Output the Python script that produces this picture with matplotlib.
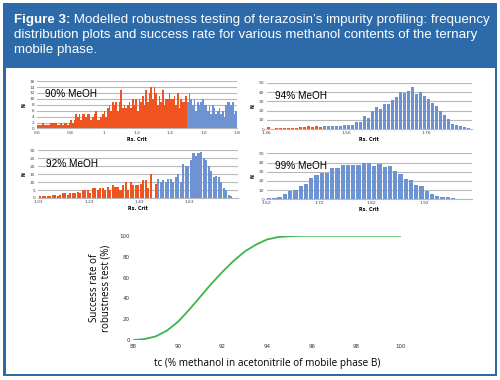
#!/usr/bin/env python3
"""Terazosin robustness figure: four Rs histograms + success-rate curve."""
import matplotlib

matplotlib.use("Agg")
import matplotlib.pyplot as plt
from matplotlib.patches import Rectangle
import numpy as np

BLUE_FRAME = "#2d6aa9"
RED = "#ef5420"
BAR_BLUE = "#6d93d2"
GREEN = "#3cb54a"
RS_LIMIT = 1.5
BIN = 0.01

# ---- histogram data (counts per 0.01 Rs bin) ----
START_90 = 0.60
N_90 = [1, 1, 1, 2, 1, 1, 1, 1, 2, 2,
        2, 2, 1, 1, 2, 1, 2, 2, 1, 2,
        3, 2, 3, 5, 4, 5, 3, 5, 5, 4,
        5, 5, 3, 4, 5, 6, 3, 3, 4, 5,
        6, 4, 7, 8, 6, 9, 8, 9, 6, 9,
        13, 7, 8, 7, 8, 9, 7, 10, 8, 10,
        6, 10, 9, 11, 8, 13, 9, 12, 14, 10,
        14, 12, 8, 11, 9, 13, 8, 10, 10, 12,
        10, 10, 11, 8, 12, 7, 10, 9, 9, 11,
        9, 12, 10, 8, 10, 6, 9, 8, 9, 10,
        8, 8, 6, 8, 5, 8, 7, 5, 6, 7,
        5, 6, 4, 8, 9, 9, 8, 9, 5, 6,
        6, 4, 4, 3, 4, 2, 1, 1, 2, 2]

START_94 = 1.36
N_94 = [2, 0, 1, 1, 1, 1, 1, 1, 2, 2, 3, 2, 3, 2,
        3, 3, 3, 3, 3, 5, 4, 4, 8, 8, 14, 12, 20, 24, 22, 27,
        27, 32, 35, 40, 39, 41, 46, 38, 40, 36, 33, 28, 25, 20,
        15, 11, 6, 4, 3, 2, 1]

START_92 = 1.03
N_92 = [1, 1, 1, 1, 1, 2, 2, 1, 2, 3,
        3, 2, 3, 3, 3, 4, 3, 5, 5, 5,
        3, 6, 6, 5, 6, 6, 5, 7, 5, 8,
        7, 7, 5, 8, 10, 5, 10, 8, 8, 8,
        9, 11, 11, 6, 15, 0, 9,
        12, 10, 11, 10, 12, 12, 10, 13, 15, 10,
        21, 20, 20, 24, 28, 26, 28, 29, 25, 24,
        20, 17, 13, 14, 13, 10, 6, 5, 2, 1]

START_99 = 1.62
N_99 = [1, 1, 3, 6, 9, 10, 15, 17, 23, 26,
        29, 29, 34, 34, 37, 37, 37, 37, 39, 40,
        36, 38, 35, 36, 31, 28, 22, 21, 16, 14,
        9, 6, 4, 2, 2, 1]

# ---- success rate curve ----
TC = [88, 88.5, 89, 89.5, 90, 90.5, 91, 91.5, 92, 92.5, 93, 93.5, 94, 94.5, 95, 95.5, 96, 98, 100]
SUCCESS = [0, 1, 3.5, 9, 17.5, 29, 41.5, 54, 65.5, 76, 85, 91.5, 96.5, 98.8, 99.6, 100, 100, 100, 100]

HISTS = [
    # label, start, counts, xlim, xticks, xticklabels, ymax, ystep, rect
    ("90% MeOH", START_90, N_90, (0.6, 1.8), [0.6, 0.8, 1.0, 1.2, 1.4, 1.6, 1.8],
     ["0.6", "0.8", "1", "1.2", "1.4", "1.6", "1.8"], 16, 2,
     [0.074, 0.662, 0.400, 0.1245]),
    ("94% MeOH", START_94, N_94, (1.36, 1.873), [1.36, 1.56, 1.76],
     ["1.36", "1.56", "1.76"], 50, 10,
     [0.533, 0.660, 0.410, 0.122]),
    ("92% MeOH", START_92, N_92, (1.025, 1.82), [1.03, 1.23, 1.43, 1.63],
     ["1.03", "1.23", "1.43", "1.63"], 30, 5,
     [0.075, 0.479, 0.400, 0.126]),
    ("99% MeOH", START_99, N_99, (1.62, 2.01), [1.62, 1.72, 1.82, 1.92],
     ["1.62", "1.72", "1.82", "1.92"], 50, 10,
     [0.533, 0.4755, 0.410, 0.121]),
]

TITLE_BOLD = "Figure 3:"
TITLE_LINES = [" Modelled robustness testing of terazosin\u2019s impurity profiling: frequency",
               "distribution plots and success rate for various methanol contents of the ternary",
               "mobile phase."]


def draw_hist(fig, label, start, counts, xlim, xticks, xticklabels, ymax, ystep, rect):
    ax = fig.add_axes(rect)
    counts = np.asarray(counts, dtype=float)
    x = start + BIN * np.arange(len(counts)) + BIN / 2
    colors = [RED if xi < RS_LIMIT else BAR_BLUE for xi in x]
    ax.bar(x, counts, width=BIN * 0.82, color=colors, linewidth=0, zorder=2)
    ax.set_xlim(xlim)
    ax.set_ylim(0, ymax)
    ax.set_yticks(np.arange(0, ymax + 1, ystep))
    ax.set_xticks(xticks)
    ax.set_xticklabels(xticklabels)
    ax.tick_params(labelsize=3.2, length=0, pad=1.5, colors="#444444")
    ax.yaxis.grid(True, color="#b8b8b8", lw=0.8, zorder=0)
    for s in ("top", "right", "left"):
        ax.spines[s].set_visible(False)
    ax.spines["bottom"].set_color("#b8b8b8")
    ax.set_xlabel("Rs. Crit", fontsize=3.4, fontweight="bold", labelpad=1.5)
    ax.set_ylabel("N", fontsize=3.4, fontweight="bold", labelpad=2)
    ax.text(0.04, 0.72, label, transform=ax.transAxes, fontsize=7.2,
            family="Liberation Sans", ha="left", va="center", zorder=3)
    return ax


def main() -> None:
    fig = plt.figure(figsize=(5.0, 3.8), dpi=100)
    # frame
    fig.patches.append(Rectangle((3 / 500, 1 - 376 / 380), 494 / 500, 373 / 380,
                                 transform=fig.transFigure, facecolor=BLUE_FRAME,
                                 edgecolor="none", zorder=-10))
    fig.patches.append(Rectangle((5.5 / 500, 1 - 374 / 380), 489 / 500, 306 / 380,
                                 transform=fig.transFigure, facecolor="white",
                                 edgecolor="none", zorder=-9))
    # header text: bold prefix, then the rest of line 1 placed after it
    fs = 9.6
    bold = fig.text(14 / 500, 1 - 20 / 380, TITLE_BOLD, color="white", fontsize=fs,
                    fontweight="bold", family="Liberation Sans", ha="left", va="center")
    renderer = fig.canvas.get_renderer()
    bb = bold.get_window_extent(renderer)
    x_after = bb.x1 / fig.bbox.width
    for i, line in enumerate(TITLE_LINES):
        x0 = x_after if i == 0 else 14 / 500
        fig.text(x0, 1 - (20 + 15 * i) / 380, line, color="white", fontsize=fs,
                 family="Liberation Sans", ha="left", va="center")

    for label, start, counts, xlim, xt, xtl, ymax, ystep, rect in HISTS:
        draw_hist(fig, label, start, counts, xlim, xt, xtl, ymax, ystep, rect)

    ax = fig.add_axes([0.2667, 0.105, 0.535, 0.2745])
    ax.plot(TC, SUCCESS, color=GREEN, lw=1.3)
    ax.set_xlim(88, 100)
    ax.set_ylim(0, 100)
    ax.set_xticks([88, 90, 92, 94, 96, 98, 100])
    ax.set_yticks([0, 20, 40, 60, 80, 100])
    ax.tick_params(labelsize=4.0, length=0, pad=2.5, colors="#333333")
    for s in ax.spines.values():
        s.set_visible(False)
    ax.set_xlabel("tc (% methanol in acetonitrile of mobile phase B)", fontsize=7.2,
                  family="Open Sans", labelpad=7)
    ax.set_ylabel("Success rate of\nrobustness test (%)", fontsize=7.0,
                  family="Open Sans", labelpad=6, linespacing=1.0)

    fig.savefig("out.png", dpi=100)
    plt.close(fig)


if __name__ == "__main__":
    main()
